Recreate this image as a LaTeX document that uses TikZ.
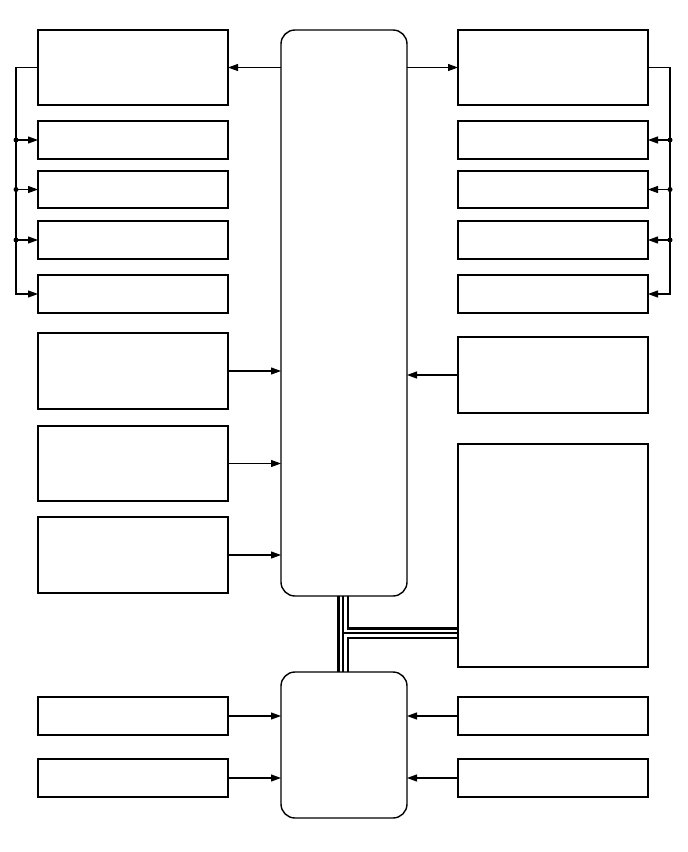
\documentclass[tikz,border=0pt]{standalone}
\usetikzlibrary{arrows.meta,backgrounds}
\begin{document}
\begin{tikzpicture}[x=1pt,y=-1pt,
  box/.style={draw,line width=1.4pt,inner sep=0pt,outer sep=0pt},
  rbox/.style={box,rounded corners=14pt},
  arr/.style={line width=1.1pt,-{Triangle[length=10pt,width=7pt]}},
  ln/.style={line width=1.1pt},
  dot/.style={circle,fill,inner sep=0pt,minimum size=5pt}]
\useasboundingbox (0,0) rectangle (688,852);
% left column
\node[box,minimum width=190,minimum height=75] (L1) at (133,67.5) {};
\node[box,minimum width=190,minimum height=38] (L2) at (133,140) {};
\node[box,minimum width=190,minimum height=37] (L3) at (133,189.5) {};
\node[box,minimum width=190,minimum height=38] (L4) at (133,240) {};
\node[box,minimum width=190,minimum height=38] (L5) at (133,294) {};
\node[box,minimum width=190,minimum height=76] (L6) at (133,371) {};
\node[box,minimum width=190,minimum height=75] (L7) at (133,463.5) {};
\node[box,minimum width=190,minimum height=76] (L8) at (133,555) {};
\node[box,minimum width=190,minimum height=38] (L9) at (133,716) {};
\node[box,minimum width=190,minimum height=38] (L10) at (133,778) {};
% right column
\node[box,minimum width=190,minimum height=75] (R1) at (553,67.5) {};
\node[box,minimum width=190,minimum height=38] (R2) at (553,140) {};
\node[box,minimum width=190,minimum height=37] (R3) at (553,189.5) {};
\node[box,minimum width=190,minimum height=38] (R4) at (553,240) {};
\node[box,minimum width=190,minimum height=38] (R5) at (553,294) {};
\node[box,minimum width=190,minimum height=76] (R6) at (553,375) {};
\node[box,minimum width=190,minimum height=223] (R7) at (553,555.5) {};
\node[box,minimum width=190,minimum height=38] (R9) at (553,716) {};
\node[box,minimum width=190,minimum height=38] (R10) at (553,778) {};
% centre blocks
\node[rbox,minimum width=126,minimum height=566] (C) at (344,313) {};
\node[rbox,minimum width=126,minimum height=146] (B) at (344,745) {};
% top arrows
\draw[arr] (C.west |- L1) -- (L1.east);
\draw[arr] (C.east |- R1) -- (R1.west);
% left bracket
\draw[arr] (L1.west) -- ++(-22,0) coordinate (lb) |- (L5.west);
\foreach \n in {L2,L3,L4}{
  \node[dot] (d\n) at (lb |- \n) {};
  \draw[arr] (d\n.center) -- (\n.west);
}
% right bracket
\draw[arr] (R1.east) -- ++(22,0) coordinate (rb) |- (R5.east);
\foreach \n in {R2,R3,R4}{
  \node[dot] (d\n) at (rb |- \n) {};
  \draw[arr] (d\n.center) -- (\n.east);
}
% inputs to centre
\draw[arr] (L6.east) -- (C.west |- L6);
\draw[arr] (L7.east) -- (C.west |- L7);
\draw[arr] (L8.east) -- (C.west |- L8);
\draw[arr] (R6.west) -- (C.east |- R6);
% inputs to bottom block
\draw[arr] (L9.east) -- (B.west |- L9);
\draw[arr] (L10.east) -- (B.west |- L10);
\draw[arr] (R9.west) -- (B.east |- R9);
\draw[arr] (R10.west) -- (B.east |- R10);
% bus
\coordinate (J) at (343,633);
\begin{scope}[on background layer]
  \draw[line width=12pt] (C.south -| J) -- (B.north -| J);
  \draw[line width=12pt] (J) -- (R7.west |- J);
  \draw[line width=7pt,white] (C.south -| J) -- (B.north -| J);
  \draw[line width=7pt,white] (J) -- (R7.west |- J);
  \draw[line width=1.5pt] (C.south -| J) -- (B.north -| J);
  \draw[line width=1.5pt] (J) -- (R7.west |- J);
\end{scope}
\end{tikzpicture}
\end{document}
